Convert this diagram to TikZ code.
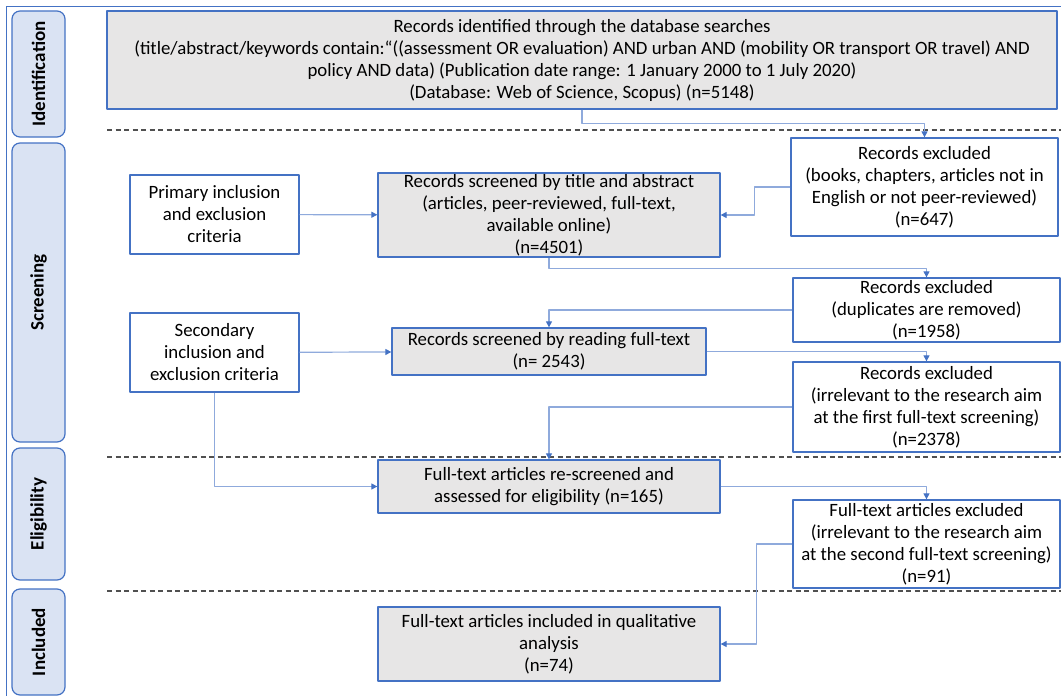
\documentclass[tikz,border=0pt]{standalone}
\usepackage{fontspec}
\setmainfont{Carlito}
\usetikzlibrary{arrows.meta}
\definecolor{Gfill}{RGB}{231,230,230}
\definecolor{Bfill}{RGB}{218,227,243}
\definecolor{Bline}{RGB}{68,114,196}
\definecolor{Lline}{RGB}{143,170,220}
\definecolor{Dline}{RGB}{80,80,80}

\tikzset{
  box/.style={draw=Bline,line width=1.3pt,inner sep=0pt,align=center,font=\fontsize{18.8}{22}\selectfont},
  recbox/.style={box,fill=Gfill},
  exclbox/.style={box,fill=white},
  phase/.style={draw=Bline,line width=1.2pt,fill=Bfill,rounded corners=8pt,rotate=90,minimum height=53pt,inner sep=0pt,font=\bfseries\fontsize{19}{22}\selectfont},
  link/.style={draw=Lline,line width=1.2pt,-{Triangle[length=6pt,width=6pt,color=Bline]}},
  sep/.style={draw=Dline,line width=1.2pt,dash pattern=on 5pt off 3.5pt}
}

\begin{document}
\begin{tikzpicture}[x=1pt,y=-1pt,line join=round]
\path[use as bounding box] (0,0) rectangle (1061,696);
% outer frame
\draw[Bline,line width=0.8pt] (6,696) -- (6,6) -- (1061,6);
% phases
\node[phase,minimum width=126pt] (ident-ph) at (38.5,74) {Identification};
\node[phase,minimum width=299pt] (scr-ph) at (38.5,292.5) {Screening};
\node[phase,minimum width=132pt] (elig-ph) at (38.5,514) {Eligibility};
\node[phase,minimum width=106pt] (incl-ph) at (38.5,642) {Included};
% separators
\draw[sep] (107,130) -- (1061,130);
\draw[sep] (107,457) -- (1061,457);
\draw[sep] (107,591) -- (1061,591);
% boxes
\node[recbox,minimum width=950pt,minimum height=98pt] (ident) at (582,60)
  {Records identified through the database searches\\
   (title/abstract/keywords contain:“((assessment OR evaluation) AND urban AND (mobility OR transport OR travel) AND\\
   policy AND data) (Publication date range: 1 January 2000 to 1 July 2020)\\
   (Database: Web of Science, Scopus) (n=5148)};
\node[exclbox,minimum width=267pt,minimum height=98pt] (excl1) at (924.5,187)
  {Records excluded\\(books, chapters, articles not in\\English or not peer-reviewed)\\(n=647)};
\node[exclbox,minimum width=169pt,minimum height=79pt] (prim) at (214.5,214.5)
  {Primary inclusion\\and exclusion\\criteria};
\node[recbox,minimum width=342pt,minimum height=84pt] (scr1) at (549,215)
  {Records screened by title and abstract\\(articles, peer-reviewed, full-text,\\available online)\\(n=4501)};
\node[exclbox,minimum width=267pt,minimum height=64pt] (excl2) at (926.5,310)
  {Records excluded\\(duplicates are removed)\\(n=1958)};
\node[exclbox,minimum width=169pt,minimum height=79pt] (sec) at (214.5,352.5)
  {Secondary\\inclusion and\\exclusion criteria};
\node[recbox,minimum width=314pt,minimum height=47pt] (scr2) at (549,351.5)
  {Records screened by reading full-text\\(n= 2543)};
\node[exclbox,minimum width=267pt,minimum height=90pt] (excl3) at (926.5,407)
  {Records excluded\\(irrelevant to the research aim\\at the first full-text screening)\\(n=2378)};
\node[recbox,minimum width=342pt,minimum height=53pt] (elig) at (549,486.5)
  {Full-text articles re-screened and\\assessed for eligibility (n=165)};
\node[exclbox,minimum width=267pt,minimum height=88pt] (excl4) at (926.5,544)
  {Full-text articles excluded\\(irrelevant to the research aim\\at the second full-text screening)\\(n=91)};
\node[recbox,minimum width=342pt,minimum height=74pt] (incl) at (549,644)
  {Full-text articles included in qualitative\\analysis\\(n=74)};
% connectors
\draw[link] (ident.south) -- ++(0,14) -| (excl1.north);
\draw[link] (excl1.west) -- ++(-36,0) |- (scr1.east);
\draw[link] (prim) -- (scr1);
\draw[link] (scr1.south) -- ++(0,11) -| (excl2.north);
\draw[link] (excl2.west) -| (scr2.north);
\draw[link] (sec) -- (scr2);
\draw[link] (scr2.east) -| (excl3.north);
\draw[link] (excl3.west) -| (elig.north);
\draw[link] (sec.south) |- (elig.west);
\draw[link] (elig.east) -| (excl4.north);
\draw[link] (excl4.west) -- ++(-36,0) |- (incl.east);
\end{tikzpicture}
\end{document}
